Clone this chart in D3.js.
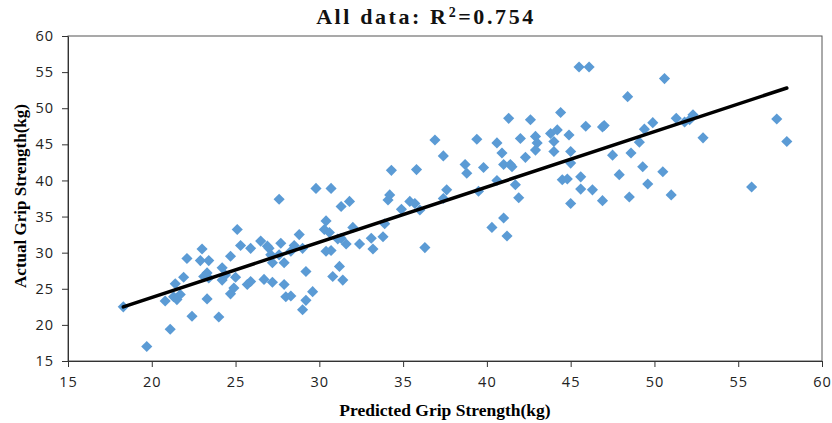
<!DOCTYPE html>
<html>
<head>
<meta charset="utf-8">
<script src="https://cdn.jsdelivr.net/npm/d3@7"></script>
<style>
  body { margin: 0; background: #fff; }
  .tick text { font-family: "Open Sans", "DejaVu Sans", sans-serif; font-size: 14.5px; fill: #222; letter-spacing: 1px; }
  .axis path, .axis line { stroke: #333; }
</style>
</head>
<body>
<div id="chart"></div>
<script>
// predicted vs actual grip strength (kg)
var predicted = [18.3,19.7,20.8,21.1,21.3,21.4,21.5,21.7,21.9,22.1,22.4,22.9,23.0,23.1,23.3,23.3,23.4,23.4,24.0,24.2,
  24.2,24.4,24.7,24.7,24.9,25.0,25.1,25.3,25.7,25.9,25.9,26.5,26.7,26.9,27.0,27.1,27.2,27.2,27.6,27.7,
  27.6,27.9,27.9,28.0,28.3,28.3,28.5,28.8,29.0,29.2,29.2,29.0,29.6,29.8,30.7,30.4,30.3,30.6,30.4,30.7,
  31.1,30.8,31.2,31.4,31.3,31.8,31.3,31.6,32.0,32.4,33.1,33.2,33.8,33.9,34.1,34.2,34.3,34.9,35.4,35.7,
  36.0,35.8,36.3,36.9,37.4,37.4,37.6,38.7,38.8,39.4,39.5,39.8,40.3,40.6,40.6,40.9,41.0,41.0,41.2,41.4,
  41.5,41.3,41.7,41.9,42.0,42.3,42.6,42.9,43.0,42.9,43.8,44.2,44.0,44.0,44.4,44.5,44.8,44.9,45.0,45.0,
  45.0,45.5,46.1,45.6,45.6,45.9,46.3,46.9,47.0,46.9,47.5,47.9,48.4,48.5,48.6,49.1,49.4,49.3,49.6,49.9,
  50.5,50.6,51.0,51.3,51.8,52.1,52.3,52.9,55.8,57.3,57.9];
var actual = [22.5,17.0,23.3,19.4,23.9,25.7,23.5,24.2,26.6,29.2,21.2,28.9,30.5,26.7,27.2,23.6,26.5,28.9,21.1,27.9,
  26.2,26.9,24.3,29.5,25.1,26.6,33.2,31.0,25.6,30.6,26.0,31.6,26.3,30.9,30.6,29.7,28.6,25.9,37.4,31.3,
  29.7,28.6,25.6,23.9,24.0,30.2,31.0,32.5,30.6,27.4,23.4,22.1,24.6,38.9,38.9,34.4,33.2,32.8,30.2,30.3,
  31.9,26.7,28.1,26.2,36.4,37.1,32.0,31.2,33.5,31.2,32.0,30.5,32.2,34.0,37.3,38.0,41.4,36.0,37.1,36.8,
  35.9,41.5,30.7,45.6,43.4,37.5,38.7,42.2,41.0,45.7,38.5,41.8,33.5,45.2,40.0,43.8,42.2,34.8,32.3,42.2,
  41.9,48.6,39.4,37.6,45.8,43.2,48.4,46.1,45.2,44.2,46.5,47.0,45.4,44.0,49.4,40.1,40.2,46.3,44.0,42.4,
  36.8,55.7,55.7,40.5,38.8,47.5,38.7,47.4,47.6,37.2,43.5,40.8,51.6,37.7,43.8,45.3,47.1,41.9,39.5,48.0,
  41.2,54.1,38.0,48.6,48.1,48.4,49.1,45.9,39.1,48.5,45.4];
// fitted line ends
var trendX = [18.3, 57.9];
var trendY = [22.5, 52.8];
var xTicks = [15,20,25,30,35,40,45,50,55,60];
var yTicks = [15,20,25,30,35,40,45,50,55,60];
var titleText = "All data: R";
var xLabel = "Predicted Grip Strength(kg)";
var yLabel = "Actual Grip Strength(kg)";

var W = 832, H = 423;
var margin = {top: 36, right: 10, bottom: 62, left: 68};
var width = W - margin.left - margin.right,
    height = H - margin.top - margin.bottom;

var svg = d3.select("#chart").append("svg")
    .attr("width", W)
    .attr("height", H)
    .style("font-family", "'Liberation Serif', 'DejaVu Serif', serif");

var g = svg.append("g")
    .attr("transform", "translate(" + margin.left + "," + margin.top + ")");

var xScale = d3.scaleLinear().domain([15, 60]).range([0, 754]);
var yScale = d3.scaleLinear().domain([15, 60]).range([height, 0]);

// frame (top + right)
g.append("rect")
    .attr("x", 0).attr("y", 0)
    .attr("width", xScale(60)).attr("height", height)
    .attr("fill", "none")
    .attr("stroke", "#555")
    .attr("stroke-width", 1);

var xAxis = g.append("g")
    .attr("class", "axis")
    .attr("transform", "translate(0," + height + ")")
    .call(d3.axisBottom(xScale).tickValues(xTicks).tickSize(6).tickPadding(10).tickSizeOuter(0));

var yAxis = g.append("g")
    .attr("class", "axis")
    .call(d3.axisLeft(yScale).tickValues(yTicks).tickSize(6).tickPadding(8).tickSizeOuter(0));

// points as rotated squares
var data = predicted.map(function(d, i) { return {x: d, y: actual[i]}; });
var diamond = d3.symbol().type(d3.symbolSquare).size(62);

g.selectAll(".pt").data(data).enter().append("path")
    .attr("class", "pt")
    .attr("d", diamond)
    .attr("transform", function(d) {
        return "translate(" + xScale(d.x) + "," + yScale(d.y) + ") rotate(45)";
    })
    .attr("fill", "#5b9bd5");

// trend line
var trend = trendX.map(function(d, i) { return {x: d, y: trendY[i]}; });
var valueLine = d3.line()
    .x(function(d) { return xScale(d.x); })
    .y(function(d) { return yScale(d.y); });

g.append("path")
    .datum(trend)
    .attr("d", valueLine)
    .attr("fill", "none")
    .attr("stroke", "#000")
    .attr("stroke-width", 3.5)
    .attr("stroke-linecap", "round");

// title
var title = svg.append("text")
    .attr("x", 426)
    .attr("y", 24)
    .attr("text-anchor", "middle")
    .attr("font-size", 22)
    .attr("font-weight", "bold")
    .attr("letter-spacing", 2.6)
    .attr("fill", "#111");
title.append("tspan").text(titleText);
title.append("tspan").attr("dy", -7).attr("font-size", 14).text("2");
title.append("tspan").attr("dy", 7).text("=0.754");

svg.append("text")
    .attr("x", 445)
    .attr("y", 416)
    .attr("text-anchor", "middle")
    .attr("font-size", 17.5)
    .attr("font-weight", "bold")
    .text(xLabel);

svg.append("text")
    .attr("transform", "translate(26,196) rotate(-90)")
    .attr("text-anchor", "middle")
    .attr("font-size", 17)
    .attr("font-weight", "bold")
    .text(yLabel);
</script>
</body>
</html>
